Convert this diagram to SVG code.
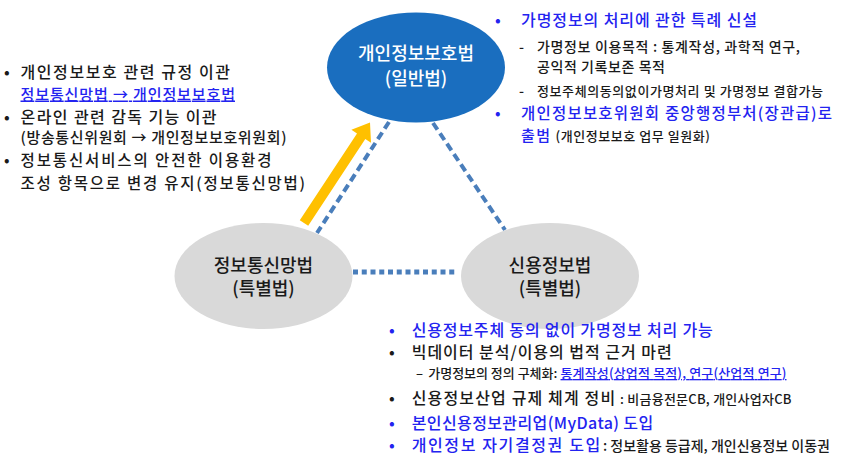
<svg xmlns="http://www.w3.org/2000/svg" width="849" height="458" viewBox="0 0 849 458">
<style>
text{font-family:"Noto Sans CJK KR","Noto Sans",sans-serif;fill:#1a1a1a;font-weight:500}
.n{font-size:18px;text-anchor:middle}
.w{fill:#ffffff}
.b{fill:#2323f0}
.u{text-decoration:underline}
.t16{font-size:16px}
.t155{font-size:15.5px}
.t15{font-size:15px}
.t14{font-size:14px}
.t13{font-size:13px}
.dash{fill:none;stroke:#4a7ebb;stroke-width:4;stroke-dasharray:8 4.5}
</style>
<rect width="849" height="458" fill="#ffffff"/>
<g id="connectors">
<line class="dash" x1="389" y1="122" x2="317" y2="233"/>
<line class="dash" x1="433" y1="123" x2="505" y2="230"/>
<line x1="353" y1="272" x2="458" y2="272" stroke="#4a7ebb" stroke-width="5" stroke-dasharray="5 3.75"/>
<polygon points="308.2,225.8 365.3,139.1 371,142.8 370,122.5 351.4,129.8 357,133.5 299.8,220.2" fill="#ffc000"/>
</g>
<g id="node-pipa">
<ellipse cx="416" cy="67.5" rx="89" ry="55" fill="#1a6ebf"/>
<text class="n w" x="416" y="59.5">개인정보보호법</text>
<text class="n w" x="416" y="84.5">(일반법)</text>
</g>
<g id="node-network">
<ellipse cx="263.5" cy="276" rx="89" ry="53" fill="#d9d9d9"/>
<text class="n" x="263.5" y="271.5">정보통신망법</text>
<text class="n" x="263.5" y="295">(특별법)</text>
</g>
<g id="node-credit">
<ellipse cx="550" cy="276" rx="89" ry="53" fill="#d9d9d9"/>
<text class="n" x="550" y="271.5">신용정보법</text>
<text class="n" x="550" y="295">(특별법)</text>
</g>
<g id="notes-left">
<text class="t16" x="4" y="78">•</text>
<text class="t16" x="20.5" y="78" textLength="209.5">개인정보보호 관련 규정 이관</text>
<text class="t15 b u" x="20.5" y="99.5" textLength="214.5">정보통신망법 → 개인정보보호법</text>
<text class="t16" x="4" y="122.5">•</text>
<text class="t16" x="20.5" y="122.5" textLength="196">온라인 관련 감독 기능 이관</text>
<text class="t15" x="20.5" y="143" textLength="266">(방송통신위원회 → 개인정보보호위원회)</text>
<text class="t155" x="4" y="166">•</text>
<text class="t155" x="20.5" y="166" textLength="251">정보통신서비스의 안전한 이용환경</text>
<text class="t155" x="20.5" y="188.5" textLength="284.5">조성 항목으로 변경 유지(정보통신망법)</text>
</g>
<g id="notes-top-right">
<text class="t16 b" x="495" y="25.5">•</text>
<text class="t16 b" x="521" y="25.5" textLength="236">가명정보의 처리에 관한 특례 신설</text>
<text class="t14" x="519" y="51.5">-</text>
<text class="t14" x="537" y="51.5" textLength="263">가명정보 이용목적 : 통계작성, 과학적 연구,</text>
<text class="t14" x="537" y="71.5" textLength="128">공익적 기록보존 목적</text>
<text class="t14" x="519" y="95.5">-</text>
<text class="t13" x="537" y="95.5" textLength="286">정보주체의동의없이가명처리 및 가명정보 결합가능</text>
<text class="t155 b" x="495" y="118.5">•</text>
<text class="t155 b" x="521" y="118.5" textLength="311">개인정보보호위원회 중앙행정부처(장관급)로</text>
<text class="t15 b" x="521" y="141" textLength="29">출범</text>
<text class="t13" x="555.5" y="140.5" textLength="154.5">(개인정보보호 업무 일원화)</text>
</g>
<g id="notes-bottom-right">
<text class="t16 b" x="389" y="335.7">•</text>
<text class="t16 b" x="411.7" y="335.7" textLength="301">신용정보주체 동의 없이 가명정보 처리 가능</text>
<text class="t16" x="389" y="358.4">•</text>
<text class="t16" x="411.7" y="358.4" textLength="260">빅데이터 분석/이용의 법적 근거 마련</text>
<text class="t13" x="416" y="378">–</text>
<text class="t13" x="428.3" y="378" textLength="129">가명정보의 정의 구체화:</text>
<text class="t13 b u" x="560.5" y="378" textLength="226">통계작성(상업적 목적), 연구(산업적 연구)</text>
<text class="t16" x="389" y="404">•</text>
<text class="t16" x="411.7" y="404" textLength="203.5">신용정보산업 규제 체계 정비</text>
<text class="t13" x="620" y="403.5" textLength="171.5">: 비금융전문CB, 개인사업자CB</text>
<text class="t16 b" x="389" y="429">•</text>
<text class="t16 b" x="411.7" y="429" textLength="241.5">본인신용정보관리업(MyData) 도입</text>
<text class="t16 b" x="389" y="450.7">•</text>
<text class="t16 b" x="411.7" y="450.7" textLength="188.5">개인정보 자기결정권 도입</text>
<text class="t14" x="603" y="450.5" textLength="227">: 정보활용 등급제, 개인신용정보 이동권</text>
</g>
</svg>
